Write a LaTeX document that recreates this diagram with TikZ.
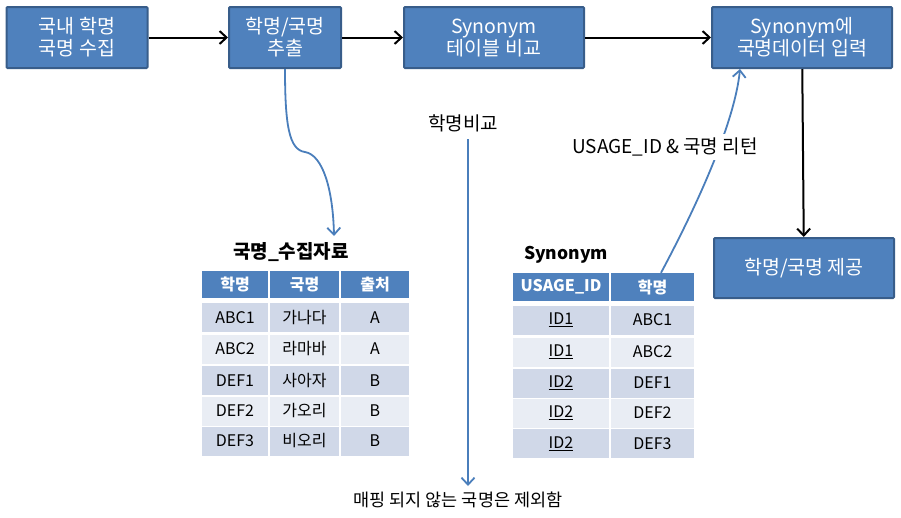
\documentclass[tikz,border=0pt]{standalone}
\usepackage{fontspec}
\setmainfont{Noto Sans CJK KR}
\usetikzlibrary{arrows.meta}
\definecolor{boxblue}{HTML}{4F81BD}
\definecolor{boxline}{HTML}{385D8A}
\definecolor{rowdark}{HTML}{D0D8E8}
\definecolor{rowlight}{HTML}{E9EDF4}
\definecolor{linkblue}{HTML}{4A7EBB}
\begin{document}
\begin{tikzpicture}[x=1pt,y=-1pt]
	\tikzstyle{stepbox}=[rectangle,draw=boxline,fill=boxblue,line width=2pt,rounded corners=1pt,text=white,align=center,inner sep=0pt,minimum height=61pt,font=\fontsize{19.5}{22}\selectfont]
	\tikzstyle{flow}=[draw,line width=2pt,-{Straight Barb[length=7pt,width=13pt]}]
	\tikzstyle{link}=[draw,line width=1.8pt,linkblue,-{Straight Barb[length=7pt,width=13pt]}]
	\tikzstyle{lbl}=[inner sep=2pt,font=\fontsize{19}{21}\selectfont]
	\tikzstyle{title}=[inner sep=0pt,font=\bfseries\fontsize{19}{21}\selectfont]
	\tikzstyle{hcell}=[rectangle,fill=boxblue,text=white,inner sep=0pt,minimum height=27pt,font=\bfseries\fontsize{16}{18}\selectfont]
	\tikzstyle{dcell}=[rectangle,fill=rowdark,inner sep=0pt,minimum height=29pt,font=\fontsize{16}{18}\selectfont]
	\tikzstyle{lcell}=[rectangle,fill=rowlight,inner sep=0pt,minimum height=29pt,font=\fontsize{16}{18}\selectfont]
	\useasboundingbox (0,0) rectangle (901,517);
	% process boxes
	\node [stepbox,minimum width=141pt] (collect) at (77,37.5) {국내 학명\\국명 수집};
	\node [stepbox,minimum width=112pt] (extract) at (285,37.5) {학명/국명\\추출};
	\node [stepbox,minimum width=180pt] (compare) at (494,37.5) {Synonym\\테이블 비교};
	\node [stepbox,minimum width=180pt] (insert) at (802,37.5) {Synonym에\\국명데이터 입력};
	\node [stepbox,minimum width=180pt,minimum height=60pt] (provide) at (804,268) {학명/국명 제공};
	\path[flow] (collect) edge (extract);
	\path[flow] (extract) edge (compare);
	\path[flow] (compare) edge (insert);
	\path[flow] (insert) edge (provide);
	% table 국명_수집자료
	\node [title] (colltitle) at (291,252) {국명\_수집자료};
	\node [hcell,minimum width=66pt] (ch1) at (235,284.5) {학명};
	\node [hcell,minimum width=69pt] (ch2) at (304.5,284.5) {국명};
	\node [hcell,minimum width=68pt] (ch3) at (375,284.5) {출처};
	\node [dcell,minimum width=66pt] (c11) at (235,317.5) {ABC1};
	\node [dcell,minimum width=69pt] (c12) at (304.5,317.5) {가나다};
	\node [dcell,minimum width=68pt] (c13) at (375,317.5) {A};
	\node [lcell,minimum width=66pt] (c21) at (235,349) {ABC2};
	\node [lcell,minimum width=69pt] (c22) at (304.5,349) {라마바};
	\node [lcell,minimum width=68pt] (c23) at (375,349) {A};
	\node [dcell,minimum width=66pt] (c31) at (235,380.5) {DEF1};
	\node [dcell,minimum width=69pt] (c32) at (304.5,380.5) {사아자};
	\node [dcell,minimum width=68pt] (c33) at (375,380.5) {B};
	\node [lcell,minimum width=66pt] (c41) at (235,411) {DEF2};
	\node [lcell,minimum width=69pt] (c42) at (304.5,411) {가오리};
	\node [lcell,minimum width=68pt] (c43) at (375,411) {B};
	\node [dcell,minimum width=66pt] (c51) at (235,441) {DEF3};
	\node [dcell,minimum width=69pt] (c52) at (304.5,441) {비오리};
	\node [dcell,minimum width=68pt] (c53) at (375,441) {B};
	% table Synonym
	\node [title,anchor=west,font=\bfseries\fontsize{17.5}{20}\selectfont] (syntitle) at (524,255) {Synonym};
	\node [hcell,minimum width=96pt,minimum height=28pt] (sh1) at (561,287) {USAGE\_ID};
	\node [hcell,minimum width=83pt,minimum height=28pt] (sh2) at (652.5,287) {학명};
	\node [dcell,minimum width=96pt] (s11) at (561,320) {\underline{ID1}};
	\node [dcell,minimum width=83pt] (s12) at (652.5,320) {ABC1};
	\node [lcell,minimum width=96pt] (s21) at (561,352) {\underline{ID1}};
	\node [lcell,minimum width=83pt] (s22) at (652.5,352) {ABC2};
	\node [dcell,minimum width=96pt] (s31) at (561,383) {\underline{ID2}};
	\node [dcell,minimum width=83pt] (s32) at (652.5,383) {DEF1};
	\node [lcell,minimum width=96pt] (s41) at (561,413) {\underline{ID2}};
	\node [lcell,minimum width=83pt] (s42) at (652.5,413) {DEF2};
	\node [dcell,minimum width=96pt] (s51) at (561,443.5) {\underline{ID2}};
	\node [dcell,minimum width=83pt] (s52) at (652.5,443.5) {DEF3};
	% blue connectors
	\coordinate (collin) at (334,236);
	\path[link] (extract.south) .. controls (285,125) and (289,150) .. (305,152) .. controls (323,155) and (333,190) .. (collin);
	\node [lbl] (cmp) at (463,123) {학명비교};
	\coordinate (cmptop) at (468,139);
	\coordinate (cmpend) at (468,486);
	\path[link] (cmptop) -- (cmpend);
	\node [lbl,font=\fontsize{17.5}{19}\selectfont] (drop) at (458,500) {매핑 되지 않는 국명은 제외함};
	\path[link] ([xshift=8.5pt]sh2.north) .. controls (700,200) and (735,120) .. ([xshift=-62pt]insert.south);
	\node [lbl,fill=white,inner ysep=4pt] (ret) at (665,147) {USAGE\_ID \& 국명 리턴};
\end{tikzpicture}
\end{document}
